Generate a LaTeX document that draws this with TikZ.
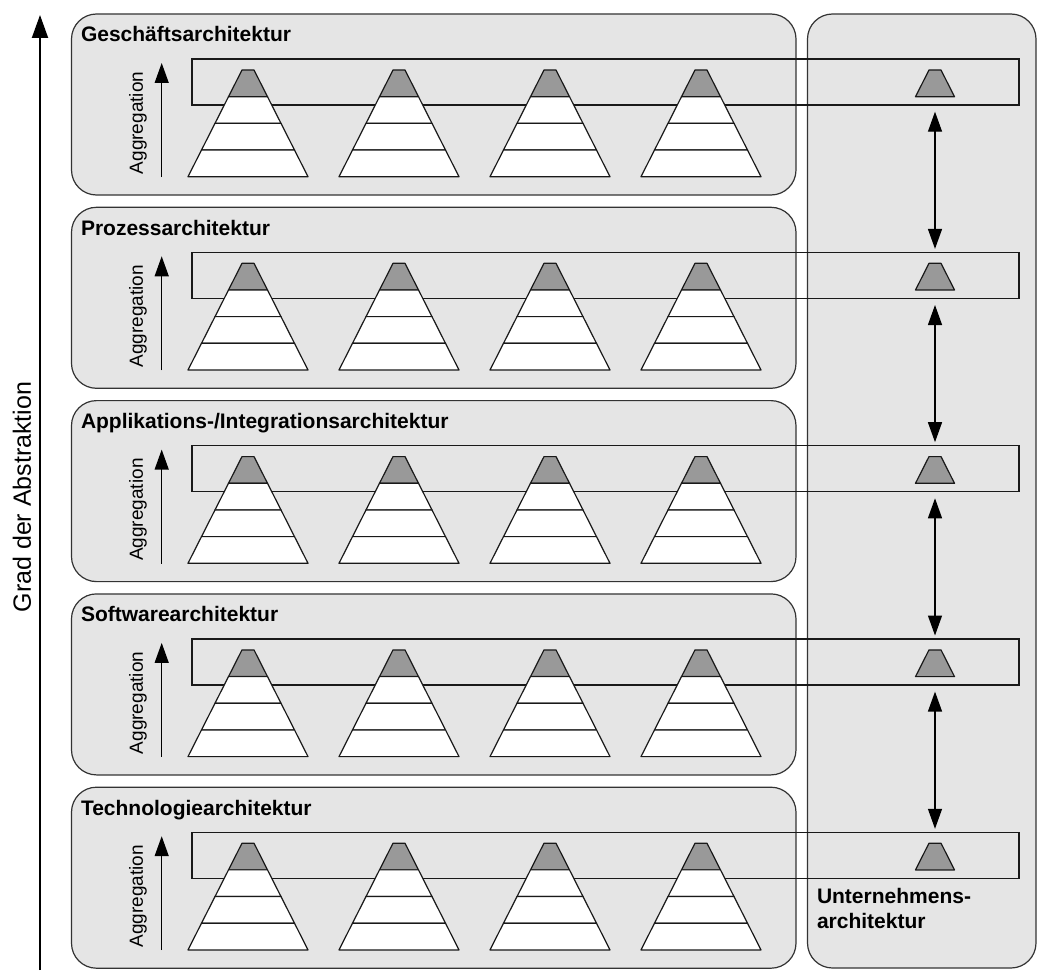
\documentclass[tikz,border=0pt]{standalone}
\usepackage{fontspec}
\setmainfont{Liberation Sans}
\usetikzlibrary{arrows.meta, positioning, calc}

\begin{document}
\begin{tikzpicture}[x=1pt, y=-1pt, >={Triangle[length=20pt, width=14pt]},
  every node/.style={inner sep=0pt, outer sep=0pt},
  layerbox/.style={draw=black!80, fill=black!10, line width=1.2pt, rounded corners=25pt},
  bandbox/.style={draw=black!90, line width=1.2pt, minimum width=827pt, minimum height=46pt, anchor=north west},
  layertitle/.style={font=\fontsize{21}{25}\selectfont\bfseries, anchor=base west, align=left},
  stage/.style={draw=black!90, line width=1.2pt, line join=round},
  aggtext/.style={rotate=90, font=\fontsize{19}{22}\selectfont}]
\useasboundingbox (0,0) rectangle (1037,974);

% Unternehmensarchitektur column
\draw[layerbox] (807.5,14) rectangle (1036,968);
\node[layertitle] (eaTitle) at (817,928) {Unternehmens-\\architektur};

% abstraction axis
\coordinate (axisBot) at (40,970);
\coordinate (axisTop) at (40,15);
\draw[->, line width=2pt, >={Triangle[length=23pt, width=16pt]}] (axisBot) -- (axisTop);
\node[rotate=90, font=\fontsize{25}{30}\selectfont] (axisLabel) at (22,497) {Grad der Abstraktion};

% architecture layers
\foreach \t [count=\i from 0] in {Geschäftsarchitektur, Prozessarchitektur,
    Applikations-/Integrationsarchitektur, Softwarearchitektur, Technologiearchitektur} {
  \pgfmathsetmacro\rowtop{14+193.3*\i}
  \begin{scope}[shift={(0,\rowtop)}]
    \draw[layerbox] (71.5,0) rectangle (796,181);
    \node[layertitle] (title\i) at (81,28) {\t};
    \node[bandbox] (band\i) at (192,45) {};
    % aggregation arrow
    \coordinate (aggBot\i) at (161.7,163);
    \coordinate (aggTop\i) at (161.7,49);
    \draw[->, line width=1.3pt] (aggBot\i) -- (aggTop\i);
    \node[aggtext] (agg\i) at (138,109) {Aggregation};
    % pyramids
    \foreach \c in {248,399,550,701} {
      \draw[stage, fill=black!40] (\c-6,56) -- (\c+6,56) -- (\c+19.5,82.7) -- (\c-19.5,82.7) -- cycle;
      \foreach \k in {1,2,3} {
        \draw[stage, fill=white] (\c-6-13.5*\k,56+26.67*\k) -- (\c+6+13.5*\k,56+26.67*\k)
          -- (\c+19.5+13.5*\k,82.7+26.67*\k) -- (\c-19.5-13.5*\k,82.7+26.67*\k) -- cycle;
      }
    }
    % enterprise view
    \coordinate (ea\i) at (935,69);
    \draw[stage, fill=black!40] (929,56) -- (941,56) -- (954.5,82.7) -- (915.5,82.7) -- cycle;
  \end{scope}
}

% links between layers
\foreach \i [evaluate=\i as \j using int(\i+1)] in {0,1,2,3} {
  \draw[<->, line width=1.3pt, shorten <=6.7pt, shorten >=3.4pt]
    (band\i.south -| ea\i) -- (band\j.north -| ea\i);
}
\end{tikzpicture}
\end{document}
